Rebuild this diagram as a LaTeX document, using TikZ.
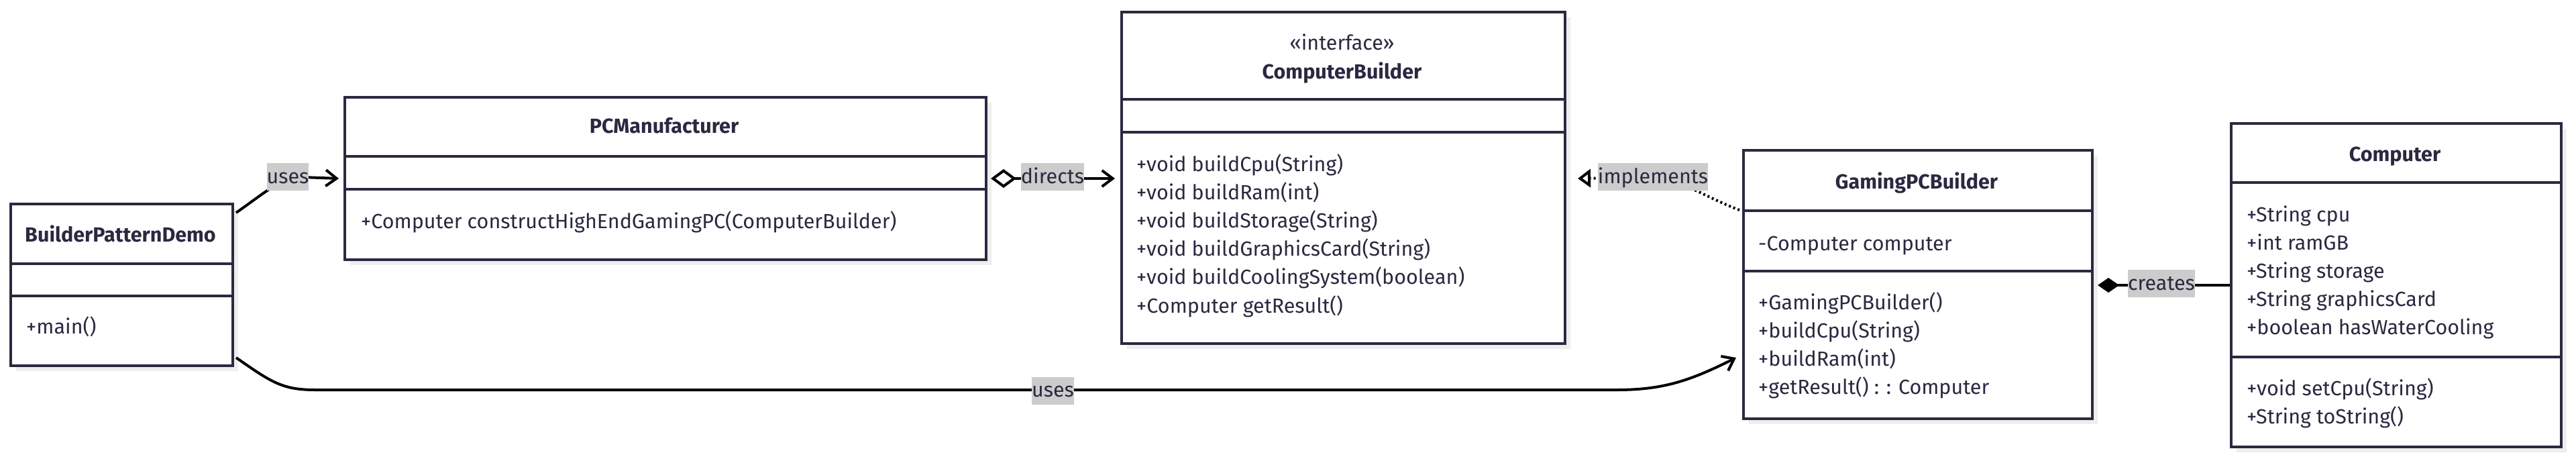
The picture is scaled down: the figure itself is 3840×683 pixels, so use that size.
\documentclass[tikz,border=0pt]{standalone}
\usepackage{fontspec}
\setmainfont{Fira Sans}
\usetikzlibrary{arrows.meta,shadows,calc}
\definecolor{ink}{HTML}{2B2940}
\definecolor{lblbg}{HTML}{CCCCCC}
\definecolor{shade}{HTML}{EEEEEE}
\pgfdeclarelayer{edges}
\pgfdeclarelayer{labels}
\pgfsetlayers{main,edges,labels}
\newcommand{\fs}{\fontsize{30.5}{36}\selectfont}
\begin{document}
\begin{tikzpicture}[x=1pt,y=-1pt,
  umlbox/.style={draw=ink, line width=4pt, fill=white, rectangle, inner sep=0pt, anchor=north west,
    drop shadow={shadow xshift=8pt, shadow yshift=-8pt, fill=shade, opacity=1}},
  divider/.style={draw=ink, line width=4pt},
  member/.style={anchor=base west, inner sep=0pt, text=ink, font=\fs},
  classtitle/.style={anchor=base, inner sep=0pt, text=ink, font=\fs\bfseries},
  stereo/.style={anchor=base, inner sep=0pt, text=ink, font=\fs},
  elabel/.style={fill=lblbg, text=ink, font=\fs, inner xsep=0pt, inner ysep=0pt, text height=30pt, text depth=11pt},
  conn/.style={draw=black, line width=4pt},
  barb/.style={-{Straight Barb[length=16pt,width=24pt]}},
]
\useasboundingbox (0,0) rectangle (3840,683);
\fill[white] (0,0) rectangle (3840,683);

% ---------- boxes ----------
\node[umlbox, minimum width=331pt, minimum height=241pt] (bpd) at (14,302) {};
\node[umlbox, minimum width=956pt, minimum height=242pt] (pcm) at (512,143) {};
\node[umlbox, minimum width=661pt, minimum height=494pt] (cb) at (1670,16) {};
\node[umlbox, minimum width=520pt, minimum height=400pt] (gpb) at (2597,222) {};
\node[umlbox, minimum width=492pt, minimum height=482pt] (comp) at (3324,182) {};

% dividers
\draw[divider] ($(bpd.north west)+(0,91)$) -- ($(bpd.north east)+(0,91)$);
\draw[divider] ($(bpd.north west)+(0,139)$) -- ($(bpd.north east)+(0,139)$);
\draw[divider] ($(pcm.north west)+(0,90)$) -- ($(pcm.north east)+(0,90)$);
\draw[divider] ($(pcm.north west)+(0,139)$) -- ($(pcm.north east)+(0,139)$);
\draw[divider] ($(cb.north west)+(0,132)$) -- ($(cb.north east)+(0,132)$);
\draw[divider] ($(cb.north west)+(0,181)$) -- ($(cb.north east)+(0,181)$);
\draw[divider] ($(gpb.north west)+(0,92)$) -- ($(gpb.north east)+(0,92)$);
\draw[divider] ($(gpb.north west)+(0,182)$) -- ($(gpb.north east)+(0,182)$);
\draw[divider] ($(comp.north west)+(0,90)$) -- ($(comp.north east)+(0,90)$);
\draw[divider] ($(comp.north west)+(0,350)$) -- ($(comp.north east)+(0,350)$);

% ---------- texts ----------
\node[classtitle] (bpdT) at (179.5,360) {BuilderPatternDemo};
\node[member] (bpdM1) at (39,497) {+main()};

\node[classtitle] (pcmT) at (990,198) {PCManufacturer};
\node[member] (pcmM1) at (538,340) {+Computer constructHighEndGamingPC(ComputerBuilder)};

\node[stereo] (cbS) at (2000.5,74) {«interface»};
\node[classtitle] (cbT) at (2000.5,117) {ComputerBuilder};
\node[member] (cbM1) at (1694,255) {+void buildCpu(String)};
\node[member] (cbM2) at (1694,297.2) {+void buildRam(int)};
\node[member] (cbM3) at (1694,339.4) {+void buildStorage(String)};
\node[member] (cbM4) at (1694,381.6) {+void buildGraphicsCard(String)};
\node[member] (cbM5) at (1694,423.8) {+void buildCoolingSystem(boolean)};
\node[member] (cbM6) at (1694,466) {+Computer getResult()};

\node[classtitle] (gpbT) at (2857,281) {GamingPCBuilder};
\node[member] (gpbA1) at (2621,373) {-Computer computer};
\node[member] (gpbM1) at (2621,461) {+GamingPCBuilder()};
\node[member] (gpbM2) at (2621,503) {+buildCpu(String)};
\node[member] (gpbM3) at (2621,545) {+buildRam(int)};
\node[member] (gpbM4) at (2621,587) {+getResult() : : Computer};

\node[classtitle] (compT) at (3570,240) {Computer};
\node[member] (compA1) at (3349,330) {+String cpu};
\node[member] (compA2) at (3349,372) {+int ramGB};
\node[member] (compA3) at (3349,414) {+String storage};
\node[member] (compA4) at (3349,456) {+String graphicsCard};
\node[member] (compA5) at (3349,498) {+boolean hasWaterCooling};
\node[member] (compM1) at (3349,589) {+void setCpu(String)};
\node[member] (compM2) at (3349,631) {+String toString()};

% ---------- connectors ----------
\begin{pgfonlayer}{edges}
\coordinate (u1s) at ($(bpd.north east)+(3,15)$);
\coordinate (u1e) at ($(pcm.west)+(-7,0)$);
\draw[conn, barb] (u1s) .. controls +(47,-33) and +(-30,0) .. (450,264) -- (u1e);

\coordinate (ds) at ($(pcm.east)+(5,0)$);
\coordinate (de) at ($(cb.west |- pcm.east)+(-8,0)$);
\draw[conn, {Diamond[open,length=38pt,width=28pt]}-{Straight Barb[length=16pt,width=24pt]}] (ds) -- (de);

\coordinate (is) at ($(gpb.north west)+(-4,91)$);
\coordinate (ie) at ($(cb.east |- pcm.east)+(17,0)$);
\draw[conn, dash pattern=on 3pt off 4pt, -{Triangle[open,length=19pt,width=27pt]}] (is) .. controls +(-53,-20) and +(40,0) .. (2460,264) -- (ie);

\coordinate (cs) at ($(gpb.east)+(6,1)$);
\draw[conn, {Diamond[length=32pt,width=22pt]}-] (cs) -- (comp.west);

\coordinate (u2s) at ($(bpd.south east)+(3,-14)$);
\coordinate (u2e) at ($(gpb.west)+(-9,109)$);
\draw[conn, barb] (u2s) .. controls +(52,36) and +(-50,0) .. (470,581) -- (2410,581) .. controls +(70,0) and +(-68,34) .. (u2e);
\end{pgfonlayer}

% ---------- edge labels ----------
\begin{pgfonlayer}{labels}
\node[elabel] (lUses1) at (429,263.5) {uses};
\node[elabel] (lDirects) at (1569,263.5) {directs};
\node[elabel] (lImpl) at (2464,263.5) {implements};
\node[elabel] (lCreates) at (3222,422.5) {creates};
\node[elabel] (lUses2) at (1569.5,582) {uses};
\end{pgfonlayer}
\end{tikzpicture}
\end{document}
